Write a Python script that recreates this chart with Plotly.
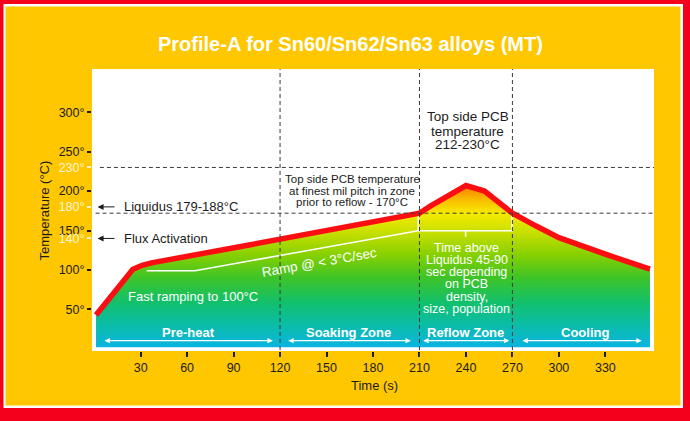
import plotly.graph_objects as go

# ---------------- data ----------------
time_s = [1.2, 25, 31, 37, 100, 210, 217, 228, 236, 240, 252, 270, 285, 300, 330, 358.8]
temp_c = [43, 101, 106, 109, 131.7, 172, 181, 193, 203.5, 207, 200, 172, 156, 141, 120, 101]
base_c = 2

x_ticks = [30, 60, 90, 120, 150, 180, 210, 240, 270, 300, 330]
y_ticks_dark = [50, 100, 150, 200, 250, 300]
y_ticks_light = [140, 180, 230]

zone_dividers = [120, 210, 270]
level_lines = [230, 172]

zone_names = ["Pre-heat", "Soaking Zone", "Reflow Zone", "Cooling"]
zone_label_x = [60.7, 164.5, 239.9, 316.8]
zone_start = [5.7, 124.3, 211.4, 275.5]
zone_end = [115.4, 204.5, 268.0, 353.5]

ramp_x = [33.9, 65.1, 209.2]
ramp_y = [99.1, 99.1, 149.8]
bracket_x = [209.2, 209.2, 269.7, 269.7]
bracket_y = [170, 149.8, 149.8, 170]
bracket_mid_x = [239.8, 239.8]
bracket_mid_y = [149.8, 142.2]

# ---------------- geometry helpers ----------------
W, H = 690, 421
ML, MR, MT, MB = 92, 36, 69, 70
PW, PH = W - ML - MR, H - MT - MB
XR = [-1.4, 361.4]
YR = [-2.7, 354.8]


def px(xp):
    return (xp - ML) / PW


def py(yp):
    return (H - MB - yp) / PH


FONT = "Liberation Sans, Arial, sans-serif"
DARK = "#1c1c1c"
YELLOW = "#ffc700"
RED = "#f5001c"

fig = go.Figure()

# baseline (invisible) and gradient fill
fig.add_trace(go.Scatter(x=[time_s[0], time_s[-1]], y=[base_c, base_c], mode="lines",
                         line=dict(width=0), hoverinfo="skip", showlegend=False))
fig.add_trace(go.Scatter(
    x=time_s, y=temp_c, mode="lines", line=dict(width=0), fill="tonexty",
    fillgradient=dict(type="vertical", start=base_c, stop=207,
                      colorscale=[[0.0, "#0ab4e2"], [0.13, "#0bbcab"], [0.28, "#12c06a"],
                                  [0.43, "#3ec428"], [0.57, "#86d000"], [0.72, "#cce000"],
                                  [0.83, "#f6ea00"], [0.92, "#f9b800"], [1.0, "#f77a00"]]),
    hoverinfo="skip", showlegend=False))

# white guide lines
wl = dict(color="white", width=1.5)
fig.add_trace(go.Scatter(x=ramp_x, y=ramp_y, mode="lines", line=wl, showlegend=False, hoverinfo="skip"))
fig.add_trace(go.Scatter(x=bracket_x, y=bracket_y, mode="lines", line=wl, showlegend=False, hoverinfo="skip"))
fig.add_trace(go.Scatter(x=bracket_mid_x, y=bracket_mid_y, mode="lines", line=wl, showlegend=False, hoverinfo="skip"))

# red profile line
fig.add_trace(go.Scatter(x=time_s, y=temp_c, mode="lines",
                         line=dict(color="#fb0d12", width=5.5), showlegend=False, hoverinfo="skip"))

# invisible trace for second y axis
fig.add_trace(go.Scatter(x=[None], y=[None], yaxis="y2", showlegend=False, hoverinfo="skip"))

shapes = []
# background frames
shapes.append(dict(type="rect", xref="paper", yref="paper", x0=px(3.5), x1=px(683), y0=py(408), y1=py(4),
                   fillcolor="white", line=dict(width=0), layer="below"))
shapes.append(dict(type="rect", xref="paper", yref="paper", x0=px(5.5), x1=px(680.5), y0=py(405.5), y1=py(6.5),
                   fillcolor=YELLOW, line=dict(width=0), layer="below"))
shapes.append(dict(type="rect", xref="paper", yref="paper", x0=0, x1=1, y0=0, y1=1,
                   fillcolor="white", line=dict(width=0), layer="below"))
dash = dict(color="#3a3a3a", width=1, dash="4px,3px")
for xv in zone_dividers:
    shapes.append(dict(type="line", xref="x", yref="paper", x0=xv, x1=xv, y0=py(357), y1=1, line=dash, layer="above"))
shapes.append(dict(type="line", xref="x", yref="y", x0=3.7, x1=XR[1], y0=level_lines[0], y1=level_lines[0], line=dash, layer="above"))
shapes.append(dict(type="line", xref="x", yref="y", x0=0.9, x1=XR[1], y0=level_lines[1], y1=level_lines[1], line=dash, layer="above"))

ann = []


def text(x, y, s, size=12, color=DARK, bold=False, xanchor="center", angle=0, family=FONT, xref="x", yref="y"):
    ann.append(dict(x=x, y=y, xref=xref, yref=yref, text=(f"<b>{s}</b>" if bold else s), showarrow=False,
                    xanchor=xanchor, yanchor="middle", textangle=angle,
                    font=dict(family=family, size=size, color=color)))


# title
text(px(350), py(44), "Profile-A for Sn60/Sn62/Sn63 alloys (MT)", size=20, color="white", bold=True,
     family="Liberation Sans Narrow, Arial Narrow, Liberation Sans, Arial", xref="paper", yref="paper")
# axis titles
text(px(45), 175.4, "Temperature (°C)", size=13, angle=-90, xref="paper")
text(px(374.7), py(385), "Time (s)", size=13, xref="paper", yref="paper")

# left arrows
for yv, label in [(180, "Liquidus 179-188°C"), (140, "Flux Activation")]:
    ann.append(dict(x=2.2, y=yv, ax=14.1, ay=yv, axref="x", ayref="y", xref="x", yref="y", text="",
                    showarrow=True, arrowhead=2, arrowsize=1.2, arrowwidth=1, arrowcolor=DARK))
    text(17.7, yv, label, size=13, xanchor="left")

# soak note
for yv, line in zip([215, 200.1, 185.8], ["Top side PCB temperature", "at finest mil pitch in zone", "prior to reflow - 170°C"]):
    text(166.5, yv, line, size=11.5)

# peak note
for yv, line in zip([295.1, 276.1, 259.3], ["Top side PCB", "temperature", "212-230°C"]):
    text(241.3, yv, line, size=13.5)

text(63.6, 67, "Fast ramping to 100°C", size=13, color="white")
text(145.4, 110, "Ramp @ < 3°C/sec", size=13.5, color="white", angle=-10)

for yv, line in zip([128.3, 112.7, 97.8, 82.2, 66.1, 50.9],
                    ["Time above", "Liquidus 45-90", "sec depending", "on PCB", "density,", "size, population"]):
    text(240.6, yv, line, size=12.5, color="white")

# zones
for name, xc, x0, x1 in zip(zone_names, zone_label_x, zone_start, zone_end):
    text(xc, 21, name, size=13, color="white", bold=True)
    ann.append(dict(x=x1, y=10.4, ax=x0, ay=10.4, axref="x", ayref="y", xref="x", yref="y", text="",
                    showarrow=True, arrowhead=2, startarrowhead=2, arrowside="end+start",
                    arrowsize=0.9, startarrowsize=0.9, arrowwidth=1.2, arrowcolor="white"))

fig.update_layout(
    width=W, height=H, margin=dict(l=ML, r=MR, t=MT, b=MB),
    paper_bgcolor=RED, plot_bgcolor="rgba(0,0,0,0)",
    shapes=shapes, annotations=ann, showlegend=False, hovermode=False,
    font=dict(family=FONT, color=DARK),
    xaxis=dict(range=XR, tickvals=x_ticks, ticks="outside", ticklen=5, tickwidth=1.5, tickcolor=DARK,
               showgrid=False, zeroline=False, showline=False, tickfont=dict(size=12.5, color=DARK)),
    yaxis=dict(range=YR, tickvals=y_ticks_dark, ticktext=[f"{v}°" for v in y_ticks_dark],
               ticks="outside", ticklen=4, tickwidth=1.5, tickcolor=DARK,
               showgrid=False, zeroline=False, showline=False, tickfont=dict(size=12.5, color=DARK)),
    yaxis2=dict(range=YR, overlaying="y", side="left", tickvals=y_ticks_light,
                ticktext=[f"{v}°" for v in y_ticks_light], ticks="outside", ticklen=4, tickwidth=1.5,
                tickcolor="#fff6d8", showgrid=False, zeroline=False, showline=False,
                tickfont=dict(size=12.5, color="#fff6d8")),
)

fig.write_html("out.html", config={"displayModeBar": False},
               post_script="document.body.style.margin='0';document.body.style.padding='0';document.body.style.overflow='hidden';")
